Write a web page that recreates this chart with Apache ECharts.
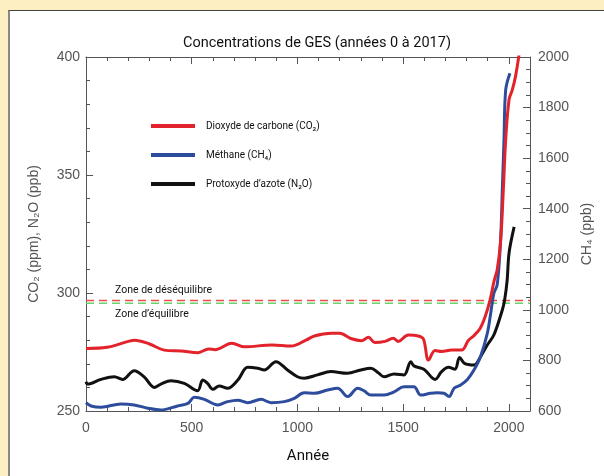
<!DOCTYPE html>
<html>
<head>
    <meta charset="utf-8">
    <style>
        html, body { margin: 0; width: 100%; height: 100%; background: #fdefc1; overflow: hidden; }
        #panel {
            position: absolute; left: 8px; top: 10px; width: 620px; height: 500px;
            background: #fff; border-top: 1.5px solid #444; border-left: 2px solid #888;
        }
        #chart-panel { position: absolute; left: 0; top: 0; width: 604px; height: 476px; }
    </style>
    <script src="https://cdn.jsdelivr.net/npm/echarts@6/dist/echarts.min.js"></script>
</head>
<body>
<div id="panel"></div>
<div id="chart-panel"></div>
<script type="text/javascript">
  // values
  var co2Years = [0, 100, 200, 230, 300, 370, 450, 530, 580, 610, 690, 750, 880, 970, 1040, 1080, 1160, 1200, 1256, 1303, 1336, 1366, 1414, 1453, 1477, 1524, 1572, 1596, 1620, 1651, 1682, 1730, 1777, 1809, 1833, 1864, 1888, 1911, 1930, 1945, 1961, 1974, 1985, 2001, 2016, 2032, 2053]
  var co2Values = [276.5, 277, 279.5, 280, 278.4, 275.8, 275.4, 274.7, 276.3, 276, 278.7, 277.2, 278, 277.5, 280, 281.8, 282.9, 282.9, 280.6, 279.8, 281.2, 279, 279.5, 280.8, 279.5, 282.2, 281.8, 280.5, 271.6, 275.6, 275.2, 275.8, 275.8, 280, 281.8, 285, 290, 297, 305, 310, 322, 344, 365, 382, 386, 392, 404]

  var ch4Years = [0, 24, 71, 165, 228, 293, 354, 433, 482, 512, 560, 623, 670, 718, 765, 828, 875, 938, 985, 1032, 1080, 1143, 1190, 1238, 1285, 1315, 1347, 1410, 1457, 1504, 1551, 1583, 1630, 1662, 1693, 1717, 1741, 1772, 1804, 1835, 1866, 1898, 1914, 1929, 1945, 1961, 1969, 1977, 1985, 2005]
  var ch4Values = [633, 620, 615, 628, 624, 611, 604, 620, 630, 654, 646, 624, 637, 643, 633, 646, 633, 637, 650, 672, 670, 683, 690, 657, 690, 680, 663, 663, 676, 696, 696, 663, 670, 672, 670, 657, 690, 703, 725, 762, 815, 907, 986, 1065, 1100, 1276, 1474, 1672, 1870, 1936]

  var n2oYears = [0, 8, 71, 134, 173, 228, 275, 323, 354, 402, 465, 528, 552, 575, 600, 630, 670, 718, 765, 812, 843, 898, 953, 1000, 1032, 1095, 1158, 1236, 1300, 1347, 1382, 1410, 1457, 1504, 1536, 1551, 1598, 1651, 1682, 1714, 1745, 1767, 1790, 1835, 1866, 1898, 1929, 1969, 1980, 1992, 2001, 2025]
  var n2oValues = [262.4, 261.4, 263.4, 264.5, 263.4, 267.1, 264.5, 260, 261.4, 262.8, 261.7, 258.6, 263.1, 261.7, 259.2, 260.6, 259.6, 263.1, 268.5, 268.1, 267.4, 270.9, 267.4, 264.5, 263.9, 265.3, 266.7, 266, 267.4, 268.1, 266.2, 264.5, 265.7, 265.3, 270.9, 269.1, 267.7, 263.4, 266.7, 268.5, 267.7, 272.7, 270.2, 269.5, 273, 278, 282.2, 292.8, 297, 305.5, 317, 328]

  var seriesNames = ['Dioxyde de carbone (CO₂)', 'Méthane (CH₄)', 'Protoxyde d\u2019azote (N₂O)']
  var zoneSpan = [0, 2100]
  var zoneValues = [296.8, 295.7]
  var zoneLabels = ['Zone de déséquilibre', 'Zone d\u2019équilibre']

  function pairs(xs, ys) {
    return xs.map(function (x, i) { return [x, ys[i]] })
  }

  var axisColor = '#555'
  var labelFont = 'Liberation Sans'

  function plain(v) { return String(v) }

  function xAx(gridIndex, pos, showLabel) {
    return {
      gridIndex: gridIndex, type: 'value', position: pos, min: 0, max: 2100, interval: 500,
      axisLine: {show: true, onZero: false},
      axisTick: {show: true, inside: true, length: 7},
      minorTick: {show: true, splitNumber: 5, length: 4},
      axisLabel: {show: showLabel, color: axisColor, fontSize: 14, fontFamily: labelFont, margin: 10,
        showMaxLabel: false, formatter: plain},
      splitLine: {show: false},
      name: showLabel ? 'Année' : '',
      nameLocation: 'middle', nameGap: 38,
      nameTextStyle: {color: '#111', fontSize: 15, fontFamily: 'Roboto'}
    }
  }

  // dashed threshold line, drawn as a plain line series
  function zone(i, color, dy) {
    return {
      type: 'line', xAxisIndex: 0, yAxisIndex: 0, silent: true, z: 1,
      symbol: 'circle', symbolSize: 0, showSymbol: true,
      lineStyle: {color: color, type: [8, 5], width: 1.5},
      itemStyle: {color: color},
      data: [{
        value: [zoneSpan[0], zoneValues[i]],
        label: {show: true, formatter: zoneLabels[i], position: 'right', offset: [24, dy],
          color: '#111', fontSize: 10.5, fontFamily: 'Roboto'}
      }, [zoneSpan[1], zoneValues[i]]]
    }
  }

  var myChart = echarts.init(document.getElementById('chart-panel'))

  var option = {
    animation: false,
    title: {
      text: 'Concentrations de GES (années 0 à 2017)',
      left: 312, top: 31, textAlign: 'center',
      textStyle: {color: '#111', fontSize: 14.5, fontWeight: 'normal', fontFamily: 'Roboto'}
    },
    legend: {
      orient: 'vertical', left: 146, top: 116,
      itemWidth: 44, itemHeight: 4, itemGap: 19,
      icon: 'rect',
      data: seriesNames,
      textStyle: {color: '#111', fontSize: 10, fontFamily: 'Roboto', padding: [0, 0, 0, 6]}
    },
    grid: [
      {left: 86, right: 74, top: 57, bottom: 65},
      {left: 86, right: 74, top: 57, bottom: 65}
    ],
    xAxis: [xAx(0, 'bottom', true), xAx(1, 'top', false)],
    yAxis: [{
      gridIndex: 0, type: 'value', position: 'left', min: 250, max: 400, interval: 50,
      axisLine: {show: true, onZero: false},
      axisTick: {show: true, inside: true, length: 7},
      minorTick: {show: true, splitNumber: 5, length: 4},
      axisLabel: {color: axisColor, fontSize: 14, fontFamily: labelFont, margin: 6, formatter: plain},
      splitLine: {show: false},
      name: 'CO₂ (ppm), N₂O (ppb)', nameLocation: 'middle', nameGap: 45, nameRotate: 90,
      nameTextStyle: {color: axisColor, fontSize: 14, fontFamily: labelFont}
    }, {
      gridIndex: 1, type: 'value', position: 'right', min: 600, max: 2000, interval: 200,
      axisLine: {show: true, onZero: false},
      axisTick: {show: true, inside: true, length: 7},
      minorTick: {show: true, splitNumber: 4, length: 4},
      axisLabel: {color: axisColor, fontSize: 14, fontFamily: labelFont, margin: 8, formatter: plain},
      splitLine: {show: false},
      name: 'CH₄ (ppb)', nameLocation: 'middle', nameGap: 41, nameRotate: 90,
      nameTextStyle: {color: axisColor, fontSize: 14, fontFamily: labelFont}
    }],
    series: [
      zone(0, '#f04a4a', -10),
      zone(1, '#6ad36a', 11),
      {
        name: seriesNames[2], type: 'line', xAxisIndex: 0, yAxisIndex: 0, smooth: 0.35, showSymbol: false,
        color: '#111', lineStyle: {width: 3},
        data: pairs(n2oYears, n2oValues)
      },
      {
        name: seriesNames[1], type: 'line', xAxisIndex: 1, yAxisIndex: 1, smooth: 0.35, showSymbol: false,
        color: '#2d4c9c', lineStyle: {width: 3},
        data: pairs(ch4Years, ch4Values)
      },
      {
        name: seriesNames[0], type: 'line', xAxisIndex: 0, yAxisIndex: 0, smooth: 0.35, showSymbol: false,
        color: '#e2232b', lineStyle: {width: 3},
        data: pairs(co2Years, co2Values)
      }
    ]
  }

  myChart.setOption(option)
</script>
</body>
</html>
